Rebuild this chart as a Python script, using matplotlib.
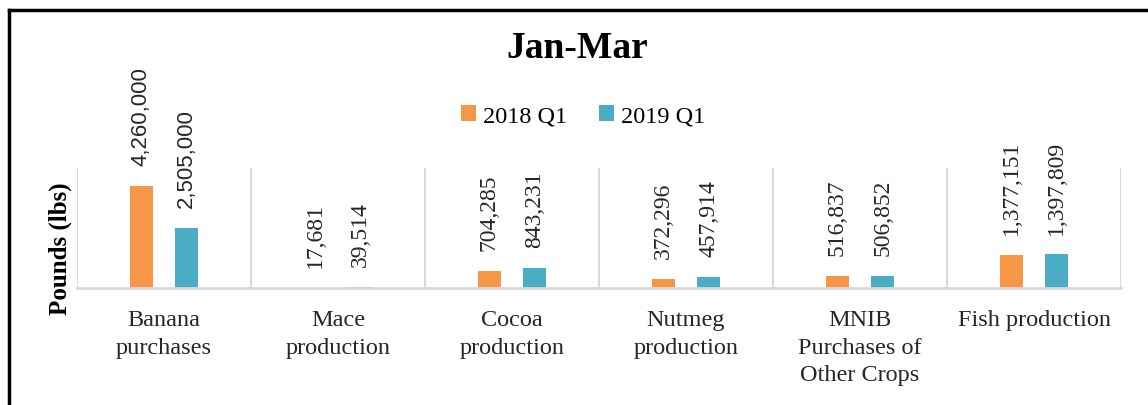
import numpy as np
import matplotlib.pyplot as plt
from matplotlib.lines import Line2D

categories = ["Banana\npurchases", "Mace\nproduction", "Cocoa\nproduction",
              "Nutmeg\nproduction", "MNIB\nPurchases of\nOther Crops", "Fish production"]
q1_2018 = [4260000, 17681, 704285, 372296, 516837, 1377151]
q1_2019 = [2505000, 39514, 843231, 457914, 506852, 1397809]
series_names = ["2018 Q1", "2019 Q1"]

orange = "#F79646"
teal = "#4BACC6"
serif = "Liberation Serif"

fig = plt.figure(figsize=(11.48, 4.06), dpi=100)
ax = fig.add_axes([0.0671, 0.2882, 0.9094, 0.2955])

x = np.arange(len(categories))
w = 0.133
off = 0.13
b1 = ax.bar(x - off, q1_2018, w, color=orange, label=series_names[0], zorder=2)
b2 = ax.bar(x + off, q1_2019, w, color=teal, label=series_names[1], zorder=2)

ax.set_xlim(-0.5, len(categories) - 0.5)
ax.set_ylim(0, 5000000)

# data labels, rotated
for bars, vals in [(b1, q1_2018), (b2, q1_2019)]:
    for i, (bar, v) in enumerate(zip(bars, vals)):
        fam = "Liberation Sans" if i == 0 else serif
        size = 16 if i == 0 else 17
        ax.annotate(f"{v:,}", (bar.get_x() + bar.get_width() / 2, bar.get_height()),
                    xytext=(0, 15), textcoords="offset points", rotation=90,
                    ha="center", va="bottom", fontsize=size, family=fam, color="#262626")

# category separators
ax.set_xticks(x)
ax.set_xticklabels(categories, fontsize=17.5, family=serif, color="#262626",
                   linespacing=1.42, va="top")
ax.set_xticks(np.arange(-0.5, len(categories)), minor=True)
ax.tick_params(axis="x", which="major", length=0, pad=15)
ax.tick_params(axis="x", which="minor", length=0)
ax.grid(axis="x", which="minor", color="#D9D9D9", linewidth=1.5, zorder=0)
ax.set_yticks([])
for s in ["top", "right", "left"]:
    ax.spines[s].set_visible(False)
ax.spines["bottom"].set_color("#D9D9D9")
ax.spines["bottom"].set_linewidth(2)
ax.spines["bottom"].set_zorder(3)

ax.set_ylabel("Pounds (lbs)", fontsize=18, family=serif, fontweight="bold")
ax.yaxis.set_label_coords(-0.005, 0.333)

fig.text(0.503, 0.88, "Jan-Mar", ha="center", va="center", fontsize=27,
         family=serif, fontweight="bold", color="#000000")
fig.legend(handles=[b1, b2], labels=series_names, loc="center",
           bbox_to_anchor=(0.508, 0.712), ncol=2, frameon=False,
           prop={"family": serif, "size": 17.5}, handlelength=0.6, handleheight=0.6,
           handletextpad=0.3, columnspacing=1.3)

# outer frame (top and left edges visible)
fig.add_artist(Line2D([0.008, 1.0], [0.973, 0.973], color="black", lw=2.5,
                      transform=fig.transFigure))
fig.add_artist(Line2D([0.008, 0.008], [0.0, 0.973], color="black", lw=2.5,
                      transform=fig.transFigure))

fig.savefig("out.png", dpi=100)
